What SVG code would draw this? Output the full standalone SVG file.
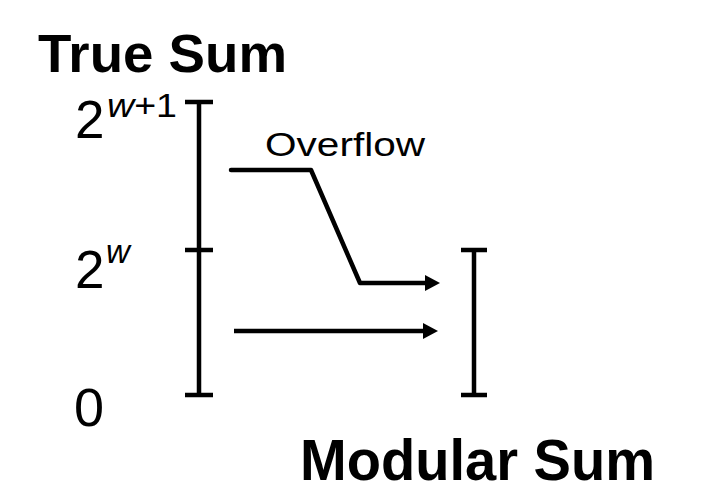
<svg xmlns="http://www.w3.org/2000/svg" width="708" height="502" viewBox="0 0 708 502">
<style>
.t{font-family:"Liberation Sans",Arial,sans-serif;fill:#000}
.b{font-weight:bold}
.ln{stroke:#000;stroke-width:4.5;fill:none}
</style>
<defs>
<marker id="ah" viewBox="0 0 15 16" refX="14" refY="8" markerWidth="15" markerHeight="16" markerUnits="userSpaceOnUse" orient="auto">
<path d="M0,0 L15,8 L0,16 Z" fill="#000"/>
</marker>
</defs>
<rect width="708" height="502" fill="#fff"/>
<g id="title-true"><text class="t b" x="38" y="72" font-size="53" textLength="249" lengthAdjust="spacingAndGlyphs">True Sum</text></g>
<g id="label-2w1"><text class="t" x="75" y="138" font-size="53">2</text><text class="t" x="107" y="117" font-size="33" textLength="70" lengthAdjust="spacingAndGlyphs"><tspan font-style="italic">w</tspan>+1</text></g>
<g id="label-2w"><text class="t" x="75" y="288" font-size="53">2</text><text class="t" x="106" y="263" font-size="33" font-style="italic">w</text></g>
<g id="label-0"><text class="t" x="74" y="426" font-size="54">0</text></g>
<g id="label-overflow"><text class="t" x="265" y="156" font-size="34" textLength="160" lengthAdjust="spacingAndGlyphs">Overflow</text></g>
<g id="title-modular"><text class="t b" x="300" y="480" font-size="57" textLength="355" lengthAdjust="spacingAndGlyphs">Modular Sum</text></g>
<g id="true-range"><path class="ln" d="M199,102 V395 M185,102 H213 M185,250 H213 M185,395 H213"/></g>
<g id="modular-range"><path class="ln" d="M474,250 V395 M461,250 H487 M461,395 H487"/></g>
<g id="connectors">
<path class="ln" stroke-linejoin="round" stroke-linecap="round" d="M231,170 H311 L360,283 H427"/>
<path d="M425,275 L440,283 L425,291 Z" fill="#000"/>
<path class="ln" d="M234,331 H425"/>
<path d="M423,323 L438,331 L423,339 Z" fill="#000"/>
</g>
</svg>
